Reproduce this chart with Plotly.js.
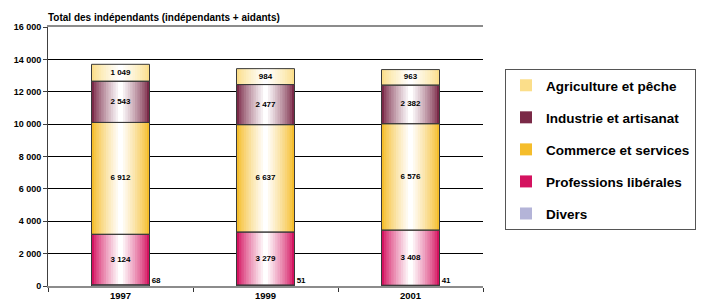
<!DOCTYPE html>
<html><head><meta charset="utf-8">
<script src="https://cdn.plot.ly/plotly-3.0.1.min.js"></script>
<style>html,body{margin:0;padding:0;background:#fff}#chart{width:709px;height:304px}</style>
</head><body><div id="chart"></div>
<script>
const years = ['1997', '1999', '2001'];
const divers = [68, 51, 41];
const professions = [3124, 3279, 3408];
const commerce = [6912, 6637, 6576];
const industrie = [2543, 2477, 2382];
const agriculture = [1049, 984, 963];
const seriesNames = ['Divers', 'Professions libérales', 'Commerce et services', 'Industrie et artisanat', 'Agriculture et pêche'];
const yTicks = [0, 2000, 4000, 6000, 8000, 10000, 12000, 14000, 16000];

const FONT = '"Liberation Sans", Arial, sans-serif';
const W = 0.4;
const N = 12;
const xs = years.map((_, i) => i);
const seriesValues = [divers, professions, commerce, industrie, agriculture];
const edgeColors = ['#B4B4D8', '#D4125F', '#F5BD2B', '#7A2947', '#FBDE8A'];

function hex(c){return [1,3,5].map(i=>parseInt(c.substr(i,2),16));}
function mix(c, t){const a=hex(c);return 'rgb('+a.map(v=>Math.round(v+(255-v)*t)).join(',')+')';}
function fmt(v){return String(v).replace(/\B(?=(\d{3})+(?!\d))/g,' ');}

const traces = [];
const bases = [];
let cum = years.map(() => 0);
seriesValues.forEach((vals, s) => {
  const base = cum.slice();
  bases.push(base);
  for (let k = 0; k < N; k++) {
    const t = Math.pow(k / (N - 1), 0.8);
    traces.push({
      type: 'bar', x: xs, y: vals, base: base, width: W * (1 - k / N),
      marker: {color: k === 0 ? edgeColors[s] : mix(edgeColors[s], t), line: {width: 0}},
      name: seriesNames[s], legendgroup: seriesNames[s], showlegend: k === 0,
      legendrank: seriesValues.length - s,
      hoverinfo: 'skip'
    });
  }
  cum = cum.map((c, i) => c + vals[i]);
});
seriesValues.forEach((vals, s) => {
  traces.push({
    type: 'bar', x: xs, y: vals, base: bases[s], width: W,
    marker: {color: 'rgba(0,0,0,0)', line: {color: '#3a3a3a', width: 1}},
    showlegend: false, hoverinfo: 'skip'
  });
});
for (let s = 1; s < seriesValues.length; s++) {
  traces.push({
    type: 'scatter', mode: 'text', x: xs,
    y: seriesValues[s].map((v, i) => bases[s][i] + v / 2),
    text: seriesValues[s].map(fmt), textposition: 'middle center',
    textfont: {family: FONT, size: 8, color: '#000', weight: 'bold'},
    showlegend: false, hoverinfo: 'skip'
  });
}
traces.push({
  type: 'scatter', mode: 'text', x: xs.map(x => x + W / 2 + 0.015), y: divers,
  text: divers.map(fmt), textposition: 'top right',
  textfont: {family: FONT, size: 8, color: '#000', weight: 'bold'},
  showlegend: false, hoverinfo: 'skip'
});

const layout = {
  width: 709, height: 304,
  margin: {l: 48, r: 226, t: 27, b: 18},
  paper_bgcolor: '#fff', plot_bgcolor: '#fff',
  barmode: 'overlay',
  separators: ', ',
  font: {family: FONT, color: '#000'},
  title: {text: 'Total des indépendants (indépendants + aidants)', x: 0, xref: 'paper', xanchor: 'left',
          y: 1 - 17 / 304, yref: 'container', yanchor: 'middle',
          font: {family: FONT, size: 10, weight: 'bold', color: '#000'}},
  xaxis: {range: [-0.5, 2.5], tickmode: 'array', tickvals: xs, ticktext: years, ticks: '',
          showgrid: false, zeroline: false, showline: true, linecolor: '#8c8c8c', linewidth: 2, mirror: true,
          tickfont: {family: FONT, size: 9.5, weight: 'bold', color: '#000'},
          minor: {tickmode: 'array', tickvals: [-0.5, 0.5, 1.5, 2.5], ticks: 'outside', ticklen: 4, tickcolor: '#333', showgrid: false},
          fixedrange: true},
  yaxis: {range: [0, 16000], tickmode: 'array', tickvals: yTicks, tickformat: ',d',
          showgrid: true, gridcolor: '#000', gridwidth: 1, zeroline: false,
          showline: true, linecolor: '#404040', linewidth: 1, ticks: 'outside', ticklen: 4, tickcolor: '#404040',
          tickfont: {family: FONT, size: 9, weight: 'bold', color: '#000'}, fixedrange: true},
  legend: {x: (505 - 48) / 435, xanchor: 'left', y: (286 - 69) / 259, yanchor: 'top',
           traceorder: 'grouped', tracegroupgap: 11.5, itemwidth: 30,
           entrywidth: 160, entrywidthmode: 'pixels',
           bgcolor: '#fff', bordercolor: '#555', borderwidth: 1,
           font: {family: FONT, size: 13.5, weight: 'bold', color: '#000'}},
  showlegend: true
};
Plotly.newPlot('chart', traces, layout, {staticPlot: true, displayModeBar: false});
</script></body></html>
